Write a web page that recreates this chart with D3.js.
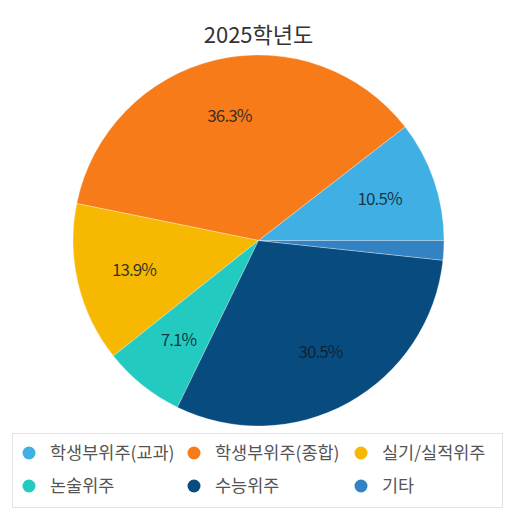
<!DOCTYPE html>
<html>
<head>
<meta charset="utf-8">
<script src="https://cdn.jsdelivr.net/npm/d3@7"></script>
<style>
    html, body { margin: 0; padding: 0; background: #fff; }
    svg { display: block; font-family: "Noto Sans CJK KR", "Noto Sans", sans-serif; }
</style>
</head>
<body>
<svg id="chart" width="513" height="520"></svg>
<script>
// Chart data
const title = "2025학년도";
const categories = ["학생부위주(교과)", "학생부위주(종합)", "실기/실적위주", "논술위주", "수능위주", "기타"];
const shares = [10.5, 36.3, 13.9, 7.1, 30.5, 1.7];
const colors = ["#3fafe4", "#f87b1a", "#f7b801", "#22cac0", "#084b7f", "#3282c4"];

const svg = d3.select("#chart");

// Pie props
const cx = 258.5, cy = 240.5, radius = 185.5;
const labelRadius = 128;

// Title
svg.append("text")
    .attr("x", cx)
    .attr("y", 43)
    .attr("text-anchor", "middle")
    .attr("font-size", "22px")
    .attr("fill", "#333")
    .text(title);

// Counterclockwise, starting at 3 o'clock
const pie = d3.pie()
    .sort(null)
    .value(d => d)
    .startAngle(Math.PI / 2)
    .endAngle(Math.PI / 2 - 2 * Math.PI);

const arcs = pie(shares);
const arc = d3.arc().innerRadius(0).outerRadius(radius);
const labelArc = d3.arc().innerRadius(labelRadius).outerRadius(labelRadius);

const g = svg.append("g").attr("transform", "translate(" + cx + "," + cy + ")");

g.selectAll("path")
    .data(arcs)
    .join("path")
    .attr("d", arc)
    .attr("fill", (d, i) => colors[i])
    .attr("stroke", "#fff")
    .attr("stroke-opacity", 0.5)
    .attr("stroke-width", 0.6);

// Percentage labels (small slices left out)
g.selectAll("text.label")
    .data(arcs.filter(d => d.data >= 5))
    .join("text")
    .attr("class", "label")
    .attr("transform", d => "translate(" + labelArc.centroid(d) + ")")
    .attr("text-anchor", "middle")
    .attr("dy", "0.35em")
    .attr("font-size", "17px")
    .attr("letter-spacing", "-0.9px")
    .attr("fill", "#111a26")
    .attr("fill-opacity", 0.85)
    .text(d => d.data.toFixed(1) + "%");

// Legend
const legendBox = { x: 12.5, y: 433.5, w: 490, h: 74 };
svg.append("rect")
    .attr("x", legendBox.x)
    .attr("y", legendBox.y)
    .attr("width", legendBox.w)
    .attr("height", legendBox.h)
    .attr("fill", "#fff")
    .attr("stroke", "#e2e2e2");

const colX = [29, 194, 361];
const rowY = [453, 486];

const items = svg.selectAll("g.legend-item")
    .data(categories)
    .join("g")
    .attr("class", "legend-item")
    .attr("transform", (d, i) => "translate(" + colX[i % 3] + "," + rowY[Math.floor(i / 3)] + ")");

items.append("circle")
    .attr("r", 6.5)
    .attr("fill", (d, i) => colors[i]);

items.append("text")
    .attr("x", 21)
    .attr("dy", "0.35em")
    .attr("font-size", "17.5px")
    .attr("fill", "#555")
    .text(d => d);
</script>
</body>
</html>
